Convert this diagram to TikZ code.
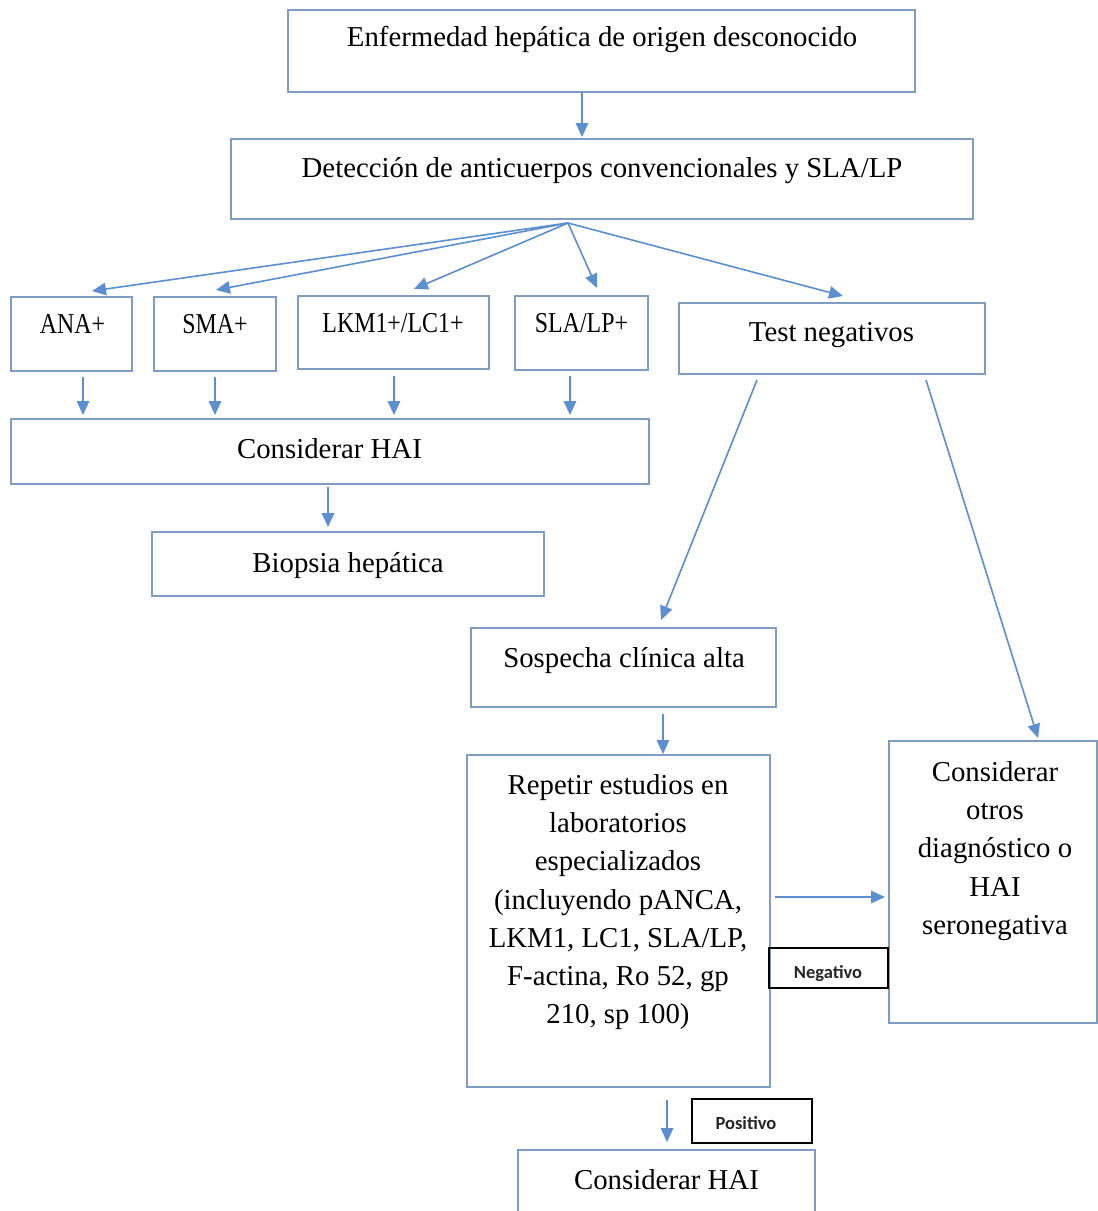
\documentclass[tikz,border=0pt]{standalone}
\usepackage{graphicx}
\usepackage{fontspec}
\setmainfont{Liberation Serif}
\newfontfamily\labelfont{Carlito}
\usetikzlibrary{arrows.meta}
\definecolor{boxline}{HTML}{7F9CC4}
\definecolor{flow}{HTML}{5B8FCF}
% narrow set for the short antibody labels
\newcommand{\narrowtext}[1]{\scalebox{0.83}[1]{#1}}
\begin{document}
\begin{tikzpicture}[x=1pt,y=-1pt,
  box/.style={draw=boxline, line width=1.6pt, anchor=north west, inner sep=0pt, outer sep=0pt},
  txt/.style={font=\fontsize{28.8}{38}\selectfont, inner sep=0pt, anchor=base},
  mtxt/.style={font=\fontsize{28.8}{38.3}\selectfont, inner sep=0pt, align=center, anchor=north},
  tag/.style={draw=black, line width=1.5pt, anchor=north west, inner sep=0pt, outer sep=0pt},
  tagtxt/.style={font=\labelfont\bfseries\fontsize{18.5}{22}\selectfont, inner sep=0pt, anchor=base, text=black!85},
  flowarrow/.style={draw=flow, line width=1.6pt, -{Triangle[length=14pt,width=12.5pt]}},
]
\useasboundingbox[fill=white] (0,0) rectangle (1098,1211);

% boxes
\node[box, minimum width=627pt, minimum height=82pt] (enf) at (288,10) {};
\node[box, minimum width=742pt, minimum height=80pt] (det) at (231,139) {};
\node[box, minimum width=121pt, minimum height=74pt] (ana) at (11,297) {};
\node[box, minimum width=122pt, minimum height=74pt] (sma) at (154,297) {};
\node[box, minimum width=191pt, minimum height=73pt] (lkm) at (298,296) {};
\node[box, minimum width=133pt, minimum height=74pt] (sla) at (515,296) {};
\node[box, minimum width=306pt, minimum height=71pt] (neg) at (679,303) {};
\node[box, minimum width=638pt, minimum height=65pt] (hai) at (11,419) {};
\node[box, minimum width=392pt, minimum height=64pt] (bio) at (152,532) {};
\node[box, minimum width=305pt, minimum height=79pt] (sos) at (471,628) {};
\node[box, minimum width=303pt, minimum height=332pt] (rep) at (467,755) {};
\node[box, minimum width=208pt, minimum height=282pt] (otr) at (889,741) {};
\node[box, minimum width=297pt, minimum height=80pt] (hai2) at (518,1150) {};
\node[tag, minimum width=119pt, minimum height=40pt] (tneg) at (769,948) {};
\node[tag, minimum width=120pt, minimum height=44pt] (tpos) at (692,1099) {};

% texts
\node[txt] (enf-t) at (602,46) {Enfermedad hepática de origen desconocido};
\node[txt] (det-t) at (602,177) {Detección de anticuerpos convencionales y SLA/LP};
\node[txt] (ana-t) at (72.5,333) {\narrowtext{ANA+}};
\node[txt] (sma-t) at (215,333) {\narrowtext{SMA+}};
\node[txt] (lkm-t) at (393,332) {\narrowtext{LKM1+/LC1+}};
\node[txt] (sla-t) at (581.5,332) {\narrowtext{SLA/LP+}};
\node[txt] (neg-t) at (831.5,341) {Test negativos};
\node[txt] (hai-t) at (329.5,458) {Considerar HAI};
\node[txt] (bio-t) at (348,572) {Biopsia hepática};
\node[txt] (sos-t) at (624,667) {Sospecha clínica alta};
\node[mtxt] (rep-t) at (618,774) {Repetir estudios en\\laboratorios\\especializados\\(incluyendo pANCA,\\LKM1, LC1, SLA/LP,\\F-actina, Ro 52, gp\\210, sp 100)};
\node[mtxt] (otr-t) at (995,761) {Considerar\\otros\\diagnóstico o\\HAI\\seronegativa};
\node[txt] (hai2-t) at (666.5,1189) {Considerar HAI};
\node[tagtxt] (tneg-t) at (828,978) {Negativo};
\node[tagtxt] (tpos-t) at (746,1129) {Positivo};

% connectors
\draw[flowarrow] ([xshift=-19.5pt]enf.south) -- ([xshift=-20pt,yshift=2pt]det.north);

\coordinate (fan) at ([xshift=-34pt,yshift=-4pt]det.south);
\draw[flowarrow] (fan) -- ([xshift=20.5pt,yshift=6pt]ana.north);
\draw[flowarrow] (fan) -- ([xshift=1pt,yshift=7pt]sma.north);
\draw[flowarrow] (fan) -- ([xshift=20.5pt,yshift=7pt]lkm.north);
\draw[flowarrow] (fan) -- ([xshift=15.5pt,yshift=8pt]sla.north);
\draw[flowarrow] (fan) -- ([xshift=11pt,yshift=7pt]neg.north);

\draw[flowarrow] ([xshift=11.5pt,yshift=-6pt]ana.south) -- ([xshift=11.5pt,yshift=4pt]hai.north -| ana.south);
\draw[flowarrow] ([yshift=-6pt]sma.south) -- ([yshift=4pt]hai.north -| sma.south);
\draw[flowarrow] ([xshift=0.5pt,yshift=-7pt]lkm.south) -- ([xshift=0.5pt,yshift=4pt]hai.north -| lkm.south);
\draw[flowarrow] ([xshift=-11.5pt,yshift=-6pt]sla.south) -- ([xshift=-11.5pt,yshift=4pt]hai.north -| sla.south);

\draw[flowarrow] ([xshift=-2pt,yshift=-3pt]hai.south) -- ([xshift=-2pt,yshift=5pt]bio.north -| hai.south);

\draw[flowarrow] ([xshift=-75pt,yshift=-6pt]neg.south) -- ([xshift=37.5pt,yshift=8pt]sos.north);
\draw[flowarrow] ([xshift=94pt,yshift=-6pt]neg.south) -- ([xshift=45pt,yshift=3pt]otr.north);

\draw[flowarrow] ([xshift=39.5pt,yshift=-7pt]sos.south) -- ([xshift=44.5pt,yshift=1pt]rep.north);
\draw[flowarrow] ([xshift=5pt,yshift=24pt]rep.east) -- ([xshift=-4pt,yshift=-15pt]otr.west);
\draw[flowarrow] ([xshift=48.5pt,yshift=-13pt]rep.south) -- ([xshift=0.5pt,yshift=8pt]hai2.north);
\end{tikzpicture}
\end{document}
